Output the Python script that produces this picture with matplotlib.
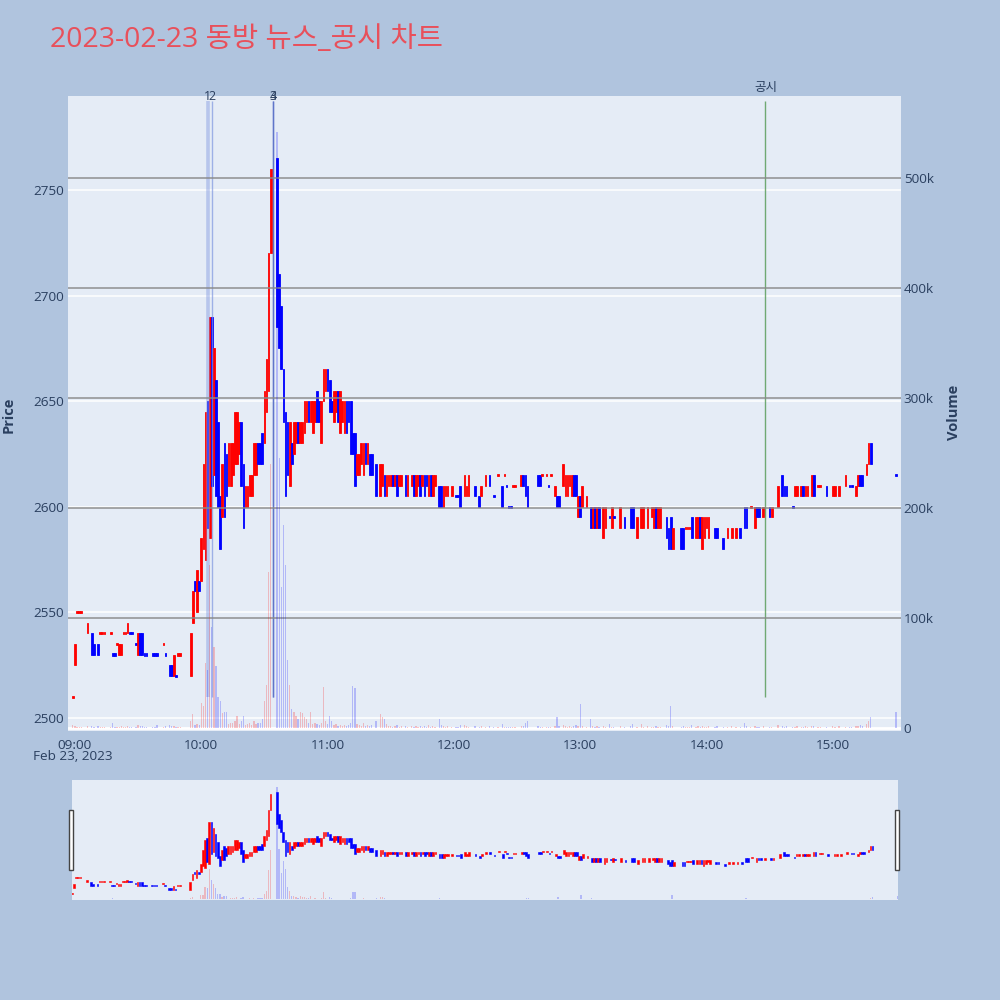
import matplotlib.pyplot as plt
import matplotlib.transforms as mtransforms
from matplotlib.patches import Rectangle
from matplotlib.ticker import FuncFormatter

plt.rcParams['font.family'] = ['Open Sans', 'Noto Sans CJK KR', 'DejaVu Sans']

title = "2023-02-23 동방 뉴스_공시 차트"

# minutes after 09:00, one entry per traded minute
minute = [
    -1, 0, 1, 2, 3, 6, 8, 9, 11, 12, 13, 14, 17, 18, 19, 20, 21, 22, 23, 24,
    25, 26, 27, 29, 30, 31, 32, 33, 34, 37, 38, 39, 42, 43, 45, 46, 47, 48, 49, 50,
    55, 56, 57, 58, 59, 60, 61, 62, 63, 64,
    65, 66, 67, 68, 69, 70, 71, 72, 73, 74,
    75, 76, 77, 78, 79, 80, 81, 82, 83, 84,
    85, 86, 87, 88, 89, 90, 91, 92, 93, 96,
    97, 98, 99, 100, 101, 102, 103, 104, 105, 106,
    107, 108, 109, 110, 111, 112, 113, 114, 115, 116,
    117, 118, 119, 120, 121, 122, 123, 124, 125, 126,
    127, 128, 129, 130, 131, 132, 133, 134, 135, 136,
    137, 138, 139, 140, 141, 143, 145, 146, 147, 148,
    149, 150, 151, 152, 153, 154, 155, 157, 158, 160,
    161, 162, 163, 164, 165, 166, 167, 168, 169, 170,
    171, 173, 174, 175, 176, 177, 179, 181, 182, 183,
    185, 186, 187, 190, 192, 193, 195, 197, 199, 201,
    203, 204, 205, 206, 207, 208, 209, 212, 213, 214,
    215, 220, 221, 222, 224, 225, 226, 228, 229, 230,
    232, 233, 234, 235, 236, 237, 238, 239, 240, 241,
    243, 245, 246, 247, 248, 249, 251, 252, 254, 255,
    256, 259, 261, 264, 265, 267, 269, 270, 272, 274,
    275, 276, 277, 278, 281, 282, 283, 284, 288, 289,
    290, 291, 292, 293, 295, 296, 297, 298, 299, 300,
    301, 304, 305, 308, 310, 312, 314, 316, 318, 319,
    321, 323, 324, 325, 327, 330, 331, 334, 336, 337,
    338, 341, 342, 343, 345, 346, 347, 348, 350, 351,
    353, 354, 357, 360, 361, 363, 366, 368, 369, 371,
    372, 373, 374, 376, 377, 378, 390,
]

open_ = [
    2510, 2525, 2550, 2550, 2550, 2540, 2540, 2535, 2535, 2540, 2540, 2540, 2540, 2530, 2530, 2535, 2530, 2530, 2540, 2540,
    2540, 2540, 2540, 2535, 2530, 2540, 2540, 2530, 2530, 2530, 2530, 2530, 2535, 2530, 2525, 2525, 2520, 2520, 2530, 2530,
    2520, 2545, 2565, 2550, 2565, 2565, 2580, 2575, 2650, 2585,
    2690, 2615, 2660, 2640, 2605, 2595, 2630, 2625, 2610, 2610,
    2615, 2620, 2620, 2625, 2640, 2620, 2600, 2600, 2605, 2605,
    2615, 2615, 2630, 2630, 2635, 2630, 2645, 2655, 2720, 2765,
    2710, 2695, 2665, 2645, 2640, 2610, 2630, 2625, 2630, 2640,
    2630, 2630, 2635, 2640, 2650, 2640, 2635, 2640, 2655, 2650,
    2630, 2650, 2655, 2665, 2660, 2650, 2640, 2645, 2655, 2635,
    2640, 2635, 2650, 2650, 2650, 2635, 2635, 2615, 2615, 2620,
    2615, 2630, 2620, 2625, 2625, 2620, 2605, 2610, 2615, 2605,
    2610, 2610, 2615, 2610, 2615, 2610, 2610, 2615, 2605, 2610,
    2615, 2605, 2610, 2615, 2610, 2615, 2615, 2605, 2615, 2605,
    2610, 2610, 2610, 2600, 2605, 2605, 2605, 2605, 2605, 2610,
    2605, 2605, 2605, 2610, 2605, 2605, 2610, 2615, 2605, 2615,
    2610, 2615, 2610, 2600, 2600, 2610, 2610, 2610, 2615, 2615,
    2610, 2615, 2615, 2615, 2615, 2610, 2615, 2605, 2605, 2605,
    2610, 2605, 2605, 2610, 2605, 2615, 2615, 2595, 2605, 2600,
    2600, 2600, 2590, 2600, 2590, 2600, 2585, 2590, 2595, 2590,
    2595, 2590, 2595, 2600, 2600, 2585, 2590, 2590, 2590, 2595,
    2590, 2600, 2590, 2590, 2595, 2590, 2595, 2580, 2590, 2590,
    2590, 2590, 2590, 2595, 2585, 2585, 2595, 2580, 2585, 2590,
    2585, 2590, 2590, 2585, 2585, 2585, 2585, 2590, 2600, 2600,
    2600, 2590, 2600, 2600, 2595, 2600, 2595, 2600, 2615, 2610,
    2610, 2600, 2605, 2605, 2605, 2610, 2605, 2605, 2605, 2615,
    2610, 2610, 2610, 2605, 2605, 2605, 2610, 2610, 2610, 2605,
    2610, 2615, 2615, 2615, 2620, 2630, 2615,
]

close = [
    2510, 2535, 2550, 2550, 2550, 2545, 2530, 2530, 2530, 2540, 2540, 2540, 2540, 2530, 2530, 2535, 2535, 2535, 2540, 2540,
    2545, 2540, 2540, 2535, 2540, 2530, 2530, 2530, 2530, 2530, 2530, 2530, 2535, 2530, 2520, 2520, 2530, 2520, 2530, 2530,
    2540, 2560, 2560, 2570, 2560, 2585, 2620, 2645, 2590, 2690,
    2610, 2675, 2605, 2600, 2580, 2620, 2595, 2605, 2630, 2630,
    2630, 2645, 2645, 2640, 2610, 2590, 2610, 2610, 2615, 2615,
    2630, 2630, 2620, 2620, 2620, 2655, 2670, 2720, 2760, 2685,
    2675, 2665, 2640, 2605, 2615, 2640, 2620, 2640, 2640, 2630,
    2640, 2640, 2650, 2650, 2640, 2650, 2650, 2650, 2640, 2640,
    2650, 2665, 2665, 2655, 2645, 2645, 2655, 2655, 2640, 2655,
    2650, 2650, 2635, 2640, 2625, 2625, 2610, 2625, 2625, 2630,
    2630, 2620, 2630, 2615, 2615, 2605, 2620, 2620, 2605, 2615,
    2615, 2615, 2610, 2615, 2605, 2615, 2615, 2605, 2615, 2615,
    2605, 2615, 2615, 2605, 2615, 2605, 2610, 2615, 2605, 2615,
    2615, 2600, 2600, 2610, 2610, 2610, 2610, 2605, 2605, 2600,
    2615, 2610, 2615, 2605, 2600, 2610, 2615, 2610, 2605, 2615,
    2600, 2615, 2610, 2600, 2600, 2610, 2610, 2615, 2610, 2605,
    2600, 2610, 2610, 2615, 2615, 2610, 2615, 2610, 2600, 2600,
    2620, 2615, 2615, 2615, 2615, 2605, 2605, 2605, 2595, 2610,
    2605, 2590, 2600, 2590, 2600, 2590, 2600, 2600, 2595, 2600,
    2595, 2600, 2590, 2590, 2590, 2595, 2600, 2600, 2600, 2600,
    2600, 2590, 2600, 2600, 2585, 2580, 2580, 2590, 2580, 2580,
    2590, 2590, 2590, 2585, 2595, 2595, 2585, 2595, 2595, 2595,
    2595, 2585, 2585, 2580, 2590, 2590, 2590, 2585, 2590, 2590,
    2600, 2600, 2595, 2595, 2600, 2595, 2600, 2610, 2605, 2605,
    2605, 2600, 2610, 2610, 2610, 2605, 2610, 2610, 2615, 2605,
    2610, 2610, 2605, 2610, 2610, 2610, 2615, 2610, 2610, 2610,
    2615, 2610, 2610, 2620, 2630, 2620, 2615,
]

# volume in thousands of shares
volume_k = [
    3, 2, 1, 1, 1, 2, 2, 1, 2, 1, 1, 1, 1, 5, 1, 1, 1, 2, 1, 1,
    2, 1, 1, 1, 3, 2, 2, 1, 1, 1, 1, 3, 1, 2, 3, 2, 2, 1, 1, 1,
    6, 13, 3, 4, 3, 23, 20, 59, 53, 148,
    92, 74, 56, 28, 25, 14, 15, 15, 4, 5,
    5, 6, 11, 4, 6, 11, 3, 4, 5, 3,
    6, 4, 5, 5, 8, 25, 39, 142, 240, 542,
    245, 128, 185, 148, 62, 39, 17, 15, 11, 8,
    15, 14, 10, 8, 5, 15, 4, 5, 4, 3,
    5, 37, 6, 4, 11, 6, 3, 4, 2, 3,
    2, 3, 2, 3, 5, 38, 36, 4, 3, 2,
    5, 2, 3, 2, 3, 6, 13, 10, 8, 4,
    2, 2, 1, 2, 3, 1, 2, 2, 1, 2,
    1, 2, 1, 2, 1, 2, 1, 3, 1, 2,
    1, 8, 3, 2, 1, 2, 1, 1, 1, 3,
    3, 2, 1, 2, 1, 2, 1, 2, 1, 1,
    4, 1, 1, 1, 1, 1, 1, 2, 2, 5,
    6, 2, 1, 1, 1, 1, 1, 2, 10, 2,
    3, 2, 1, 2, 1, 2, 3, 2, 22, 2,
    1, 8, 2, 1, 2, 1, 2, 1, 4, 1,
    1, 2, 1, 2, 4, 1, 4, 1, 2, 1,
    1, 2, 1, 1, 3, 2, 20, 2, 1, 2,
    1, 1, 1, 3, 1, 2, 1, 2, 1, 1,
    2, 1, 2, 1, 1, 2, 1, 1, 5, 2,
    1, 2, 1, 1, 2, 1, 1, 3, 2, 1,
    2, 1, 1, 2, 1, 1, 2, 1, 2, 2,
    1, 1, 1, 2, 1, 2, 1, 1, 1, 2,
    2, 3, 2, 4, 6, 10, 15,
]

# news / disclosure markers (minutes after 09:00)
event_minute = [63, 65, 94, 94]
event_label = ['1', '2', '3', '4']
notice_minute = 328
notice_label = '공시'

hour_ticks = [0, 60, 120, 180, 240, 300, 360]
hour_labels = ['09:00', '10:00', '11:00', '12:00', '13:00', '14:00', '15:00']
price_ticks = [2500, 2550, 2600, 2650, 2700, 2750]
volume_ticks = [0, 100, 200, 300, 400, 500]

BG = '#B0C4DE'
PLOT_BG = '#E5ECF6'
TXT = '#2a3f5f'
UP = '#ff0000'
DOWN = '#0000ff'

# candle direction (doji follows previous close, like plotly)
dirs = []
prev_c, prev_d = None, 1
for o, c in zip(open_, close):
    if c > o:
        d = 1
    elif c < o:
        d = -1
    elif prev_c is not None and c != prev_c:
        d = 1 if c > prev_c else -1
    else:
        d = prev_d
    dirs.append(d)
    prev_c, prev_d = c, d

body_col = [UP if d > 0 else DOWN for d in dirs]
vol_col = [(1, 0, 0, 0.22) if d > 0 else (0, 0, 1, 0.22) for d in dirs]
heights = [max(abs(c - o), 1.0) for o, c in zip(open_, close)]
bottoms = [min(o, c) if o != c else o - 0.5 for o, c in zip(open_, close)]

PRICE_LIM = (2493.8, 2794.5)
VOL_LIM = (-2.7, 574.5)


def draw(ax, axv, lw):
    ax.bar(minute, heights, bottom=bottoms, width=0.8, color=body_col,
           edgecolor=body_col, linewidth=lw, zorder=3)
    axv.bar(minute, volume_k, width=0.6, color=vol_col, linewidth=0, zorder=3)
    ax.set_ylim(*PRICE_LIM)
    axv.set_ylim(*VOL_LIM)


fig = plt.figure(figsize=(10, 10), dpi=100, facecolor=BG)

ax = fig.add_axes([0.068, 0.269, 0.833, 0.635])
ax.set_facecolor(PLOT_BG)
ax2 = ax.twinx()
draw(ax, ax2, 0.6)
ax.set_xlim(-3.3, 392.4)

for s in list(ax.spines.values()) + list(ax2.spines.values()):
    s.set_visible(False)

ax.set_yticks(price_ticks)
ax.set_axisbelow(True)
ax.yaxis.grid(True, color='white', linewidth=1.1)
ax.set_xticks(hour_ticks)
ax.set_xticklabels(hour_labels)
ax.tick_params(axis='both', length=0, labelsize=9.7, labelcolor=TXT)
ax.tick_params(axis='y', pad=3)
ax.tick_params(axis='x', pad=6)

ax2.set_yticks(volume_ticks)
ax2.yaxis.set_major_formatter(FuncFormatter(lambda v, p: '0' if v == 0 else f'{int(v)}k'))
ax2.tick_params(axis='y', length=0, labelsize=9.7, labelcolor=TXT, pad=2)
for v in volume_ticks:
    if v == 0:
        ax2.axhline(v, color='white', linewidth=2, zorder=1)
    else:
        ax2.axhline(v, color='#8a8a8a', linewidth=1.4, alpha=0.75, zorder=1)

# event lines
event_style = [('#7f97e0', 2.6, 0.45), ('#7f97e0', 1.0, 0.7),
               ('#5a70c8', 1.0, 0.8), ('#5a70c8', 1.0, 0.8)]
trans = mtransforms.blended_transform_factory(ax.transData, ax.transAxes)
for m, lab, (col, lw, al) in zip(event_minute, event_label, event_style):
    ax.vlines(m, 2510, 2792, color=col, linewidth=lw, alpha=al, zorder=4)
    ax.text(m, 1.0, lab, transform=trans, ha='center', va='center',
            fontsize=9, color=TXT, zorder=6)
ax.vlines(notice_minute, 2510, 2792, color='#5c9e5c', linewidth=1, alpha=0.85, zorder=4)
ax.text(notice_minute, 1.003, notice_label, transform=trans, ha='center', va='bottom',
        fontsize=9, color=TXT)

fig.text(0.073, 0.243, 'Feb 23, 2023', ha='center', va='center', fontsize=9.7, color=TXT)
fig.text(0.009, 0.585, 'Price', rotation=90, ha='center', va='center',
         fontsize=10.5, fontweight='bold', color=TXT)
fig.text(0.954, 0.588, 'Volume', rotation=90, ha='center', va='center',
         fontsize=10.5, fontweight='bold', color=TXT)
fig.text(0.05, 0.96, title, ha='left', va='center', fontsize=20.5, color='#E8505B')

# range slider
sl = fig.add_axes([0.072, 0.10, 0.826, 0.12])
sl.set_facecolor(PLOT_BG)
slv = sl.twinx()
draw(sl, slv, 0.4)
sl.set_xlim(minute[0], minute[-1])
for a in (sl, slv):
    a.set_xticks([])
    a.set_yticks([])
    for s in a.spines.values():
        s.set_visible(False)

for x0 in (0.069, 0.895):
    fig.patches.append(Rectangle((x0, 0.13), 0.004, 0.06, transform=fig.transFigure,
                                 facecolor='white', edgecolor='#444444', linewidth=1))

fig.savefig('out.png', dpi=100, facecolor=BG)
